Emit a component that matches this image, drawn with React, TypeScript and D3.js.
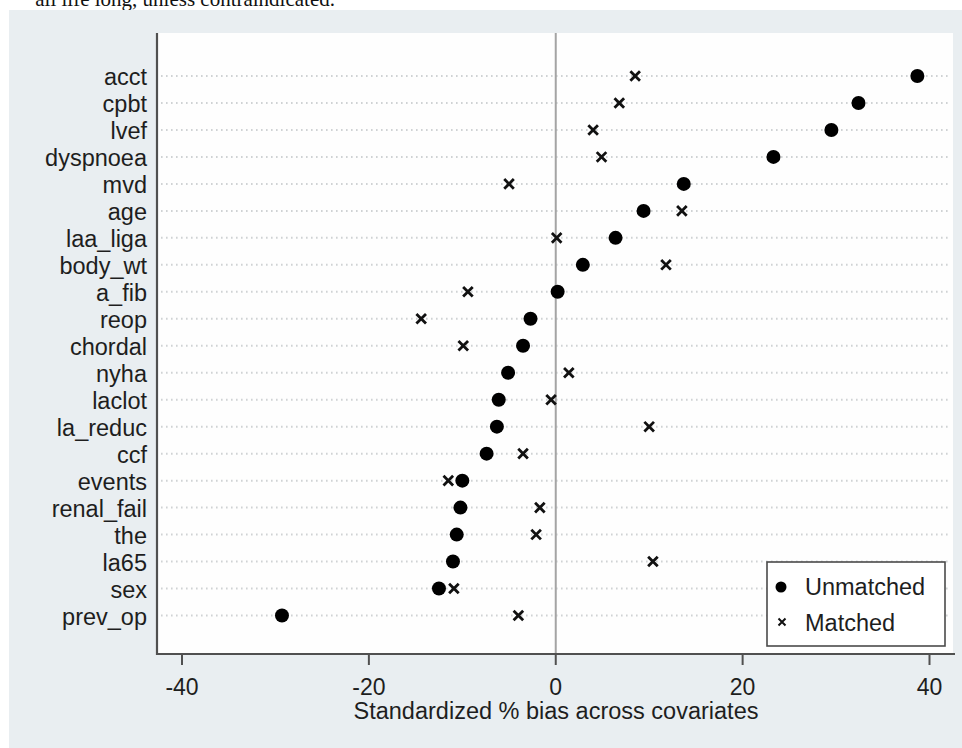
import React from "react";
import * as d3 from "d3";

const categories = [
  "acct", "cpbt", "lvef", "dyspnoea", "mvd", "age", "laa_liga", "body_wt", "a_fib", "reop",
  "chordal", "nyha", "laclot", "la_reduc", "ccf", "events", "renal_fail", "the", "la65", "sex", "prev_op",
];
const unmatched = [
  38.7, 32.4, 29.5, 23.3, 13.7, 9.4, 6.4, 2.9, 0.2, -2.7,
  -3.5, -5.1, -6.1, -6.3, -7.4, -10.0, -10.2, -10.6, -11.0, -12.5, -29.3,
];
const matched = [
  8.5, 6.8, 4.0, 4.9, -5.0, 13.5, 0.1, 11.8, -9.4, -14.4,
  -9.9, 1.4, -0.5, 10.0, -3.5, -11.5, -1.7, -2.1, 10.4, -10.9, -4.0,
];
const xTicks = [-40, -20, 0, 20, 40];
const xTitle = "Standardized % bias across covariates";
const legendLabels = ["Unmatched", "Matched"];
const topText = "all life long, unless contraindicated.";

const W = 962;
const H = 748;
const plotL = 157;
const plotR = 953;
const plotT = 33;
const plotB = 654;
const FONT = "'Liberation Sans', Arial, sans-serif";
const TEXT = "#1e1e1e";

export default function App() {
  const x = d3.scaleLinear().domain([-40, 40]).range([182, 929.5]);
  const y = d3.scalePoint<string>().domain(categories).range([76, 615.5]);

  const cross = (cx: number, cy: number, s: number) =>
    `M${cx - s},${cy - s}L${cx + s},${cy + s}M${cx - s},${cy + s}L${cx + s},${cy - s}`;

  return (
    <svg
      width={W}
      height={H}
      style={{ position: "absolute", left: 0, top: 0 }}
      xmlns="http://www.w3.org/2000/svg"
    >
      <rect x={0} y={0} width={W} height={H} fill="#ffffff" />
      <text x={335} y={6} textAnchor="end" fontFamily="'Liberation Serif', 'Times New Roman', serif" fontSize={21} fill="#111">
        {topText}
      </text>
      <rect x={9} y={10} width={W - 9} height={H - 10} fill="#e9eef1" />
      <rect x={plotL} y={plotT} width={plotR - plotL} height={plotB - plotT} fill="#fefefe" />

      {categories.map((c) => (
        <line
          key={"g" + c}
          x1={plotL + 4}
          x2={plotR - 3}
          y1={y(c)}
          y2={y(c)}
          stroke="#cfd2d4"
          strokeWidth={2}
          strokeDasharray="1.6 3.4"
        />
      ))}

      <line x1={x(0)} x2={x(0)} y1={plotT} y2={plotB} stroke="#a4a4a4" strokeWidth={2} />

      <line x1={plotL} x2={plotL} y1={plotT} y2={plotB + 1} stroke="#505050" strokeWidth={2.2} />
      <line x1={plotL - 1} x2={plotR + 2} y1={plotB} y2={plotB} stroke="#505050" strokeWidth={2.2} />

      {categories.map((c) => (
        <text
          key={"l" + c}
          x={147}
          y={(y(c) as number) + 9}
          textAnchor="end"
          fontFamily={FONT}
          fontSize={23.5}
          fill={TEXT}
        >
          {c}
        </text>
      ))}

      {xTicks.map((t) => (
        <g key={"t" + t}>
          <line x1={x(t)} x2={x(t)} y1={plotB} y2={plotB + 11} stroke="#505050" strokeWidth={2} />
          <text x={x(t)} y={695} textAnchor="middle" fontFamily={FONT} fontSize={23} fill={TEXT}>
            {t}
          </text>
        </g>
      ))}
      <text x={556} y={719} textAnchor="middle" fontFamily={FONT} fontSize={23.5} fill={TEXT}>
        {xTitle}
      </text>

      {categories.map((c, i) => (
        <path
          key={"m" + c}
          d={cross(x(matched[i]), y(c) as number, 4.8)}
          stroke="#111"
          strokeWidth={2.8}
          fill="none"
        />
      ))}
      {categories.map((c, i) => (
        <circle key={"u" + c} cx={x(unmatched[i])} cy={y(c)} r={7} fill="#000" />
      ))}

      <rect x={767} y={562} width={178} height={84} fill="#ffffff" stroke="#4a4a4a" strokeWidth={1.6} />
      <circle cx={781} cy={587} r={5.5} fill="#000" />
      <text x={805} y={595} fontFamily={FONT} fontSize={23.5} fill={TEXT}>
        {legendLabels[0]}
      </text>
      <path d={cross(782, 622, 3.5)} stroke="#111" strokeWidth={2} fill="none" />
      <text x={805} y={631} fontFamily={FONT} fontSize={23.5} fill={TEXT}>
        {legendLabels[1]}
      </text>
    </svg>
  );
}
